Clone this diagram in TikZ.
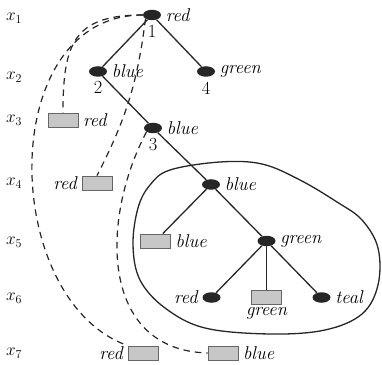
\documentclass[tikz,border=0pt]{standalone}
\usepackage{fontspec}
\usepackage{tikz}
\usetikzlibrary{shapes.geometric}

\begin{document}
\begin{tikzpicture}[x=1pt, y=1pt, level distance=56.5pt,
level 1/.style={sibling distance=108pt},level 2/.style={sibling distance=110pt},level 3/.style={sibling distance=116pt},
level 4/.style={sibling distance=111pt},level 5/.style={sibling distance=55pt},
dot/.style={ellipse, fill=black!85, minimum width=18pt, minimum height=10.5pt, inner sep=0pt},
box/.style={rectangle, draw=black!60, fill=black!22, line width=0.9pt, minimum width=30pt, minimum height=14pt, inner sep=0pt},
every label/.style={font=\fontsize{18.5}{22}\selectfont\itshape, inner sep=1pt},
label distance=3.5pt,
edge from parent/.style={draw, black!85, line width=1.3pt},
dashline/.style={black!85, line width=1.2pt, dash pattern=on 6.5pt off 5pt},
rowlab/.style={font=\fontsize{18}{22}\selectfont, inner sep=0pt}]
\useasboundingbox (0,0) rectangle (382,364);
\foreach \i/\y in {1/346,2/287,3/244,4/181,5/122,6/66,7/11}
  \node[rowlab] (x\i) at (14,\y) {$x_\i$};
\node [dot, label=right:red, label=below:\upshape 1] (n1) at (152,349) {}
child { node [dot, label=right:blue, label=below:\upshape 2] (n2) {}
	child [missing] {}
	child { node [dot, label=right:blue, label=below:\upshape 3] (n3) {}
		child [missing] {}
		child { node [dot, label=right:blue] (n5) {}
			child { node [box, label=right:blue] (b5) {}}
			child { node [dot, label=right:green] (g5) {}
				child { node [dot, label=left:red] (r6) {}}
				child { node [box, label={[label distance=1pt]below:green}] (b6) {}}
				child { node [dot, label=right:teal] (t6) {}}}}}
}
child { node [dot, label=right:green, label=below:\upshape 4] (n4) {}};
\node [box, label=right:red] (r3) at (63,244) {};
\node [box, label=left:red] (r4) at (97,181) {};
\node [box, label=left:red] (r7a) at (143,11) {};
\node [box, label=right:blue] (r7b) at (223,11) {};
\draw [line width=1.3pt, black!85] plot [smooth cycle, tension=0.6] coordinates {(170,194) (220,202) (262,200) (300,184) (337,162) (362,144) (378,116) (378,79) (362,50) (325,34) (270,30) (205,36) (165,56) (140,84) (133,119) (138,156) (150,179)};
\draw [dashline] (n1.west) to[out=180, in=90, looseness=1.4] (r3.north);
\draw [dashline] (n1.west) .. controls (-5,349) and (0,64) .. (r7a.north west);
\draw [dashline] (n1.south west) to[bend left=10] (r4.north);
\draw [dashline] (n3.south west) .. controls (100,144) and (100,14) .. (r7b.west);
\end{tikzpicture}
\end{document}
